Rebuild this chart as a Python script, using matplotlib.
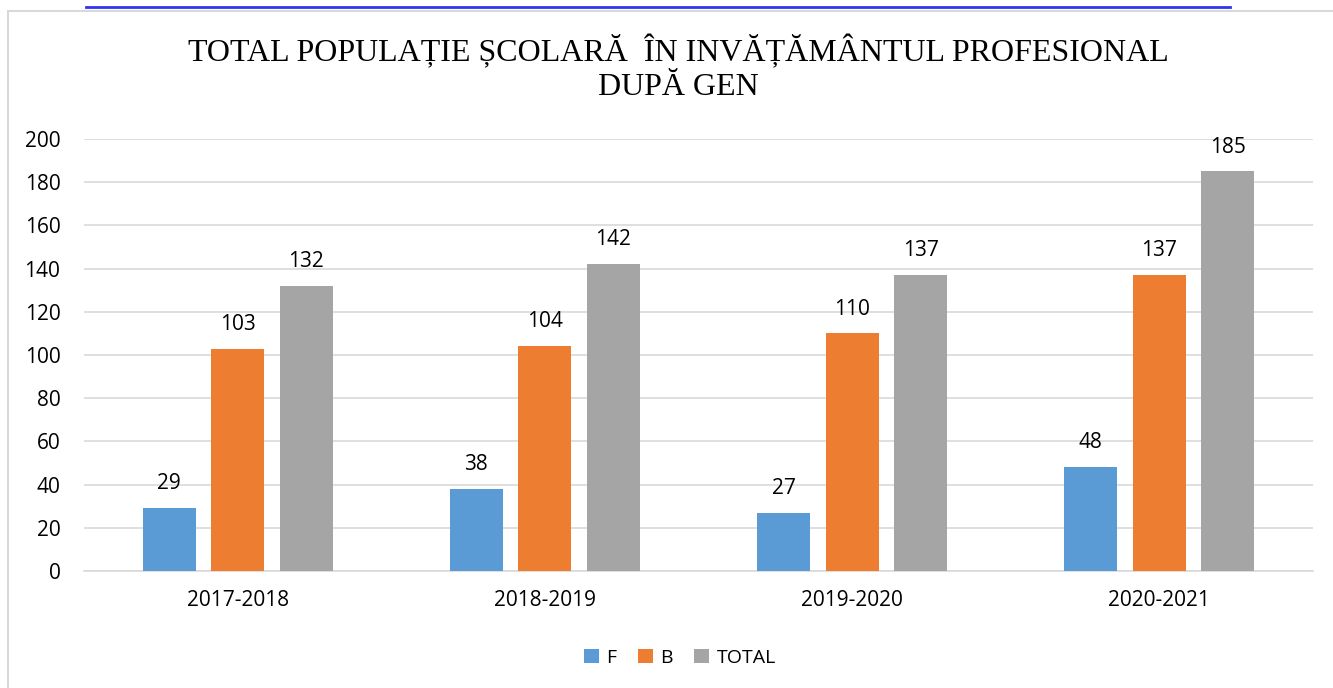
import numpy as np
import matplotlib.pyplot as plt
from matplotlib.patches import Rectangle
from matplotlib.lines import Line2D

# Data
years = ['2017-2018', '2018-2019', '2019-2020', '2020-2021']
series_names = ['F', 'B', 'TOTAL']
f_vals = [29, 38, 27, 48]
b_vals = [103, 104, 110, 137]
total_vals = [132, 142, 137, 185]
colors = ['#5B9BD5', '#ED7D31', '#A5A5A5']

plt.rcParams['font.family'] = ['Open Sans', 'DejaVu Sans']

fig = plt.figure(figsize=(13.33, 6.88), dpi=100)
ax = fig.add_axes([84 / 1333, 1 - 571 / 688, (1313 - 84) / 1333, (571 - 139) / 688])

x = np.arange(len(years))
width = 0.173
offset = 0.223
for i, (vals, name) in enumerate(zip([f_vals, b_vals, total_vals], series_names)):
    bars = ax.bar(x + (i - 1) * offset, vals, width, color=colors[i], label=name, zorder=3)
    for rect, v in zip(bars, vals):
        ax.annotate(str(v), (rect.get_x() + rect.get_width() / 2, v),
                    xytext=(0, 10), textcoords='offset points',
                    ha='center', va='bottom', fontsize=15, color='#000000')

ax.set_xlim(-0.5, len(years) - 0.5)
ax.set_ylim(0, 200)
ax.set_yticks(range(0, 201, 20))
ax.set_xticks(x)
ax.set_xticklabels(years)
ax.tick_params(axis='both', length=0, labelsize=15, colors='#000000')
ax.tick_params(axis='y', pad=17)
ax.tick_params(axis='x', pad=14)
ax.grid(axis='y', color='#D9D9D9', linewidth=1.2, zorder=0)
for s in ['top', 'right', 'left']:
    ax.spines[s].set_visible(False)
ax.spines['bottom'].set_color('#D9D9D9')
ax.spines['bottom'].set_linewidth(1.2)

# Title (serif, two lines)
fig.text(678 / 1333, 1 - 68 / 688, 'TOTAL POPULAȚIE ȘCOLARĂ  ÎN INVĂȚĂMÂNTUL PROFESIONAL\nDUPĂ GEN',
         ha='center', va='center', fontsize=23, family='Liberation Serif', linespacing=1.25)

# Legend
ax.legend(loc='upper center', bbox_to_anchor=(596 / 1229, -0.14), ncol=3, frameon=False,
          fontsize=14, handlelength=0.75, handleheight=0.75, handletextpad=0.4, columnspacing=1.1)

# Chart border and the blue line above it
fig.patches.append(Rectangle((8 / 1333, -0.1), 1.2, 1 - 11 / 688 + 0.1, transform=fig.transFigure,
                             fill=False, edgecolor='#D9D9D9', linewidth=1.5))
fig.lines.append(Line2D([86 / 1333, 1230 / 1333], [1 - 7 / 688, 1 - 7 / 688], transform=fig.transFigure,
                        color='#3333EE', linewidth=2))

fig.savefig('out.png', dpi=100)
